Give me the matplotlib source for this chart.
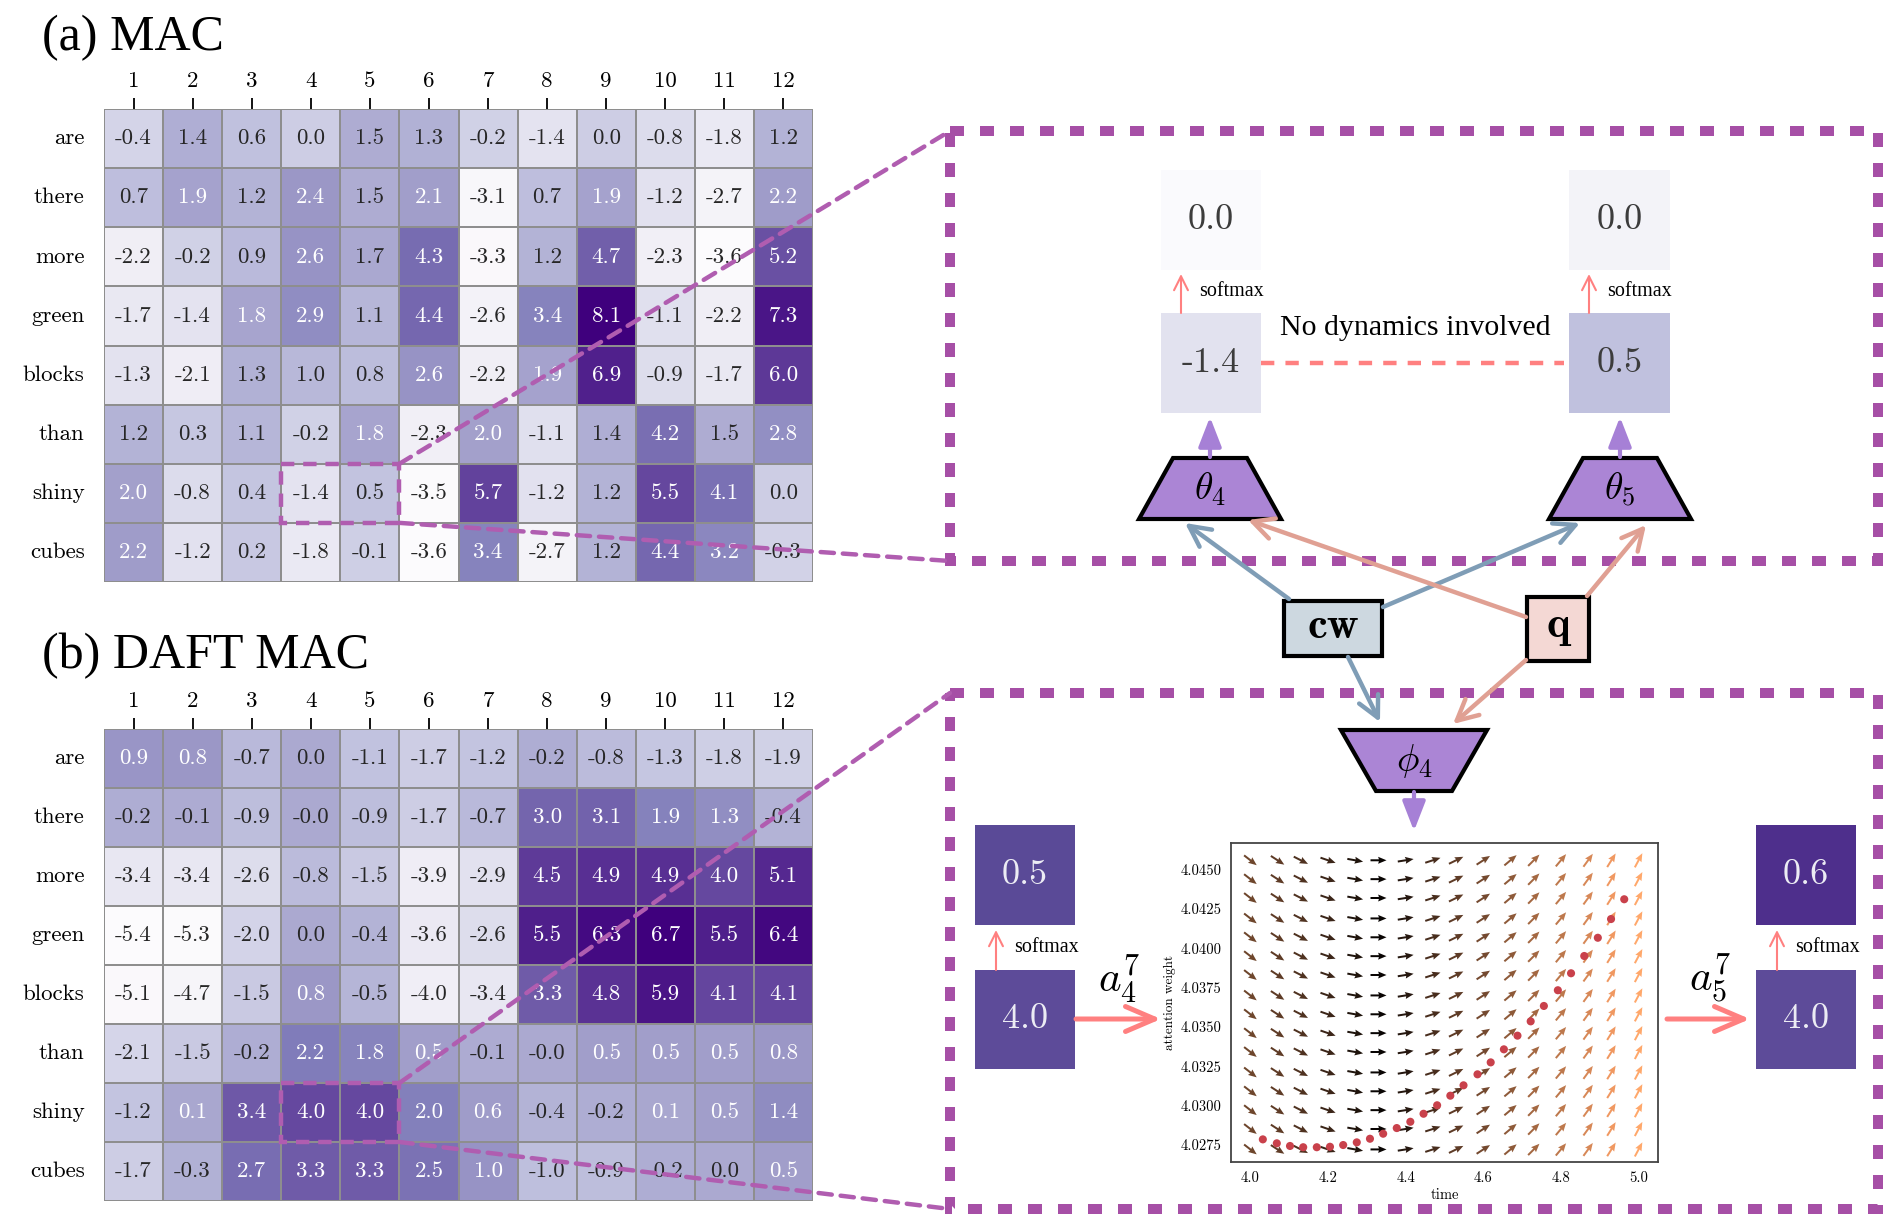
import matplotlib
matplotlib.use('Agg')
import matplotlib.pyplot as plt
import numpy as np
import seaborn as sns
from matplotlib.patches import Rectangle, Polygon, ConnectionPatch

plt.rcParams['font.family'] = ['cmr10', 'DejaVu Serif']
plt.rcParams['mathtext.fontset'] = 'cm'
plt.rcParams['axes.unicode_minus'] = False
plt.rcParams['axes.formatter.use_mathtext'] = True

# ---- heatmap data ----
words = ['are', 'there', 'more', 'green', 'blocks', 'than', 'shiny', 'cubes']
steps = [1, 2, 3, 4, 5, 6, 7, 8, 9, 10, 11, 12]

mac_attn = [
    [-0.4, 1.4, 0.6, 0.0, 1.5, 1.3, -0.2, -1.4, 0.0, -0.8, -1.8, 1.2],
    [0.7, 1.9, 1.2, 2.4, 1.5, 2.1, -3.1, 0.7, 1.9, -1.2, -2.7, 2.2],
    [-2.2, -0.2, 0.9, 2.6, 1.7, 4.3, -3.3, 1.2, 4.7, -2.3, -3.6, 5.2],
    [-1.7, -1.4, 1.8, 2.9, 1.1, 4.4, -2.6, 3.4, 8.1, -1.1, -2.2, 7.3],
    [-1.3, -2.1, 1.3, 1.0, 0.8, 2.6, -2.2, 1.9, 6.9, -0.9, -1.7, 6.0],
    [1.2, 0.3, 1.1, -0.2, 1.8, -2.3, 2.0, -1.1, 1.4, 4.2, 1.5, 2.8],
    [2.0, -0.8, 0.4, -1.4, 0.5, -3.5, 5.7, -1.2, 1.2, 5.5, 4.1, 0.0],
    [2.2, -1.2, 0.2, -1.8, -0.1, -3.6, 3.4, -2.7, 1.2, 4.4, 3.2, -0.3],
]

daft_attn = [
    [0.9, 0.8, -0.7, 0.0, -1.1, -1.7, -1.2, -0.2, -0.8, -1.3, -1.8, -1.9],
    [-0.2, -0.1, -0.9, -0.0, -0.9, -1.7, -0.7, 3.0, 3.1, 1.9, 1.3, -0.4],
    [-3.4, -3.4, -2.6, -0.8, -1.5, -3.9, -2.9, 4.5, 4.9, 4.9, 4.0, 5.1],
    [-5.4, -5.3, -2.0, 0.0, -0.4, -3.6, -2.6, 5.5, 6.3, 6.7, 5.5, 6.4],
    [-5.1, -4.7, -1.5, 0.8, -0.5, -4.0, -3.4, 3.3, 4.8, 5.9, 4.1, 4.1],
    [-2.1, -1.5, -0.2, 2.2, 1.8, 0.5, -0.1, -0.0, 0.5, 0.5, 0.5, 0.8],
    [-1.2, 0.1, 3.4, 4.0, 4.0, 2.0, 0.6, -0.4, -0.2, 0.1, 0.5, 1.4],
    [-1.7, -0.3, 2.7, 3.3, 3.3, 2.5, 1.0, -1.0, -0.9, -0.2, 0.0, 0.5],
]

# zoomed cells (word "shiny", steps 4 and 5)
mac_logits = [-1.4, 0.5]
mac_softmax = [0.0, 0.0]
daft_logits = [4.0, 4.0]
daft_softmax = [0.5, 0.6]

# ---- vector field of the attention dynamics ----
field_t = [4.00, 4.07, 4.13, 4.20, 4.27, 4.33, 4.40, 4.47,
           4.53, 4.60, 4.67, 4.73, 4.80, 4.87, 4.93, 5.00]
field_w = [4.0272, 4.0285, 4.0297, 4.0309, 4.0321, 4.0334, 4.0346, 4.0358,
           4.0370, 4.0383, 4.0395, 4.0407, 4.0419, 4.0432, 4.0444, 4.0456]
field_angle = [-38, -33, -27, -19, -10, 0, 9, 18, 26, 33, 40, 45, 50, 54, 58, 62]
field_speed = [0.35, 0.30, 0.25, 0.19, 0.10, 0.03, 0.12, 0.23,
               0.30, 0.37, 0.45, 0.52, 0.60, 0.68, 0.76, 0.84]

traj_t = [4.032, 4.068, 4.102, 4.136, 4.171, 4.205, 4.239, 4.274, 4.308, 4.342,
          4.377, 4.412, 4.446, 4.481, 4.515, 4.549, 4.585, 4.619, 4.653, 4.688,
          4.722, 4.756, 4.792, 4.826, 4.860, 4.895, 4.929, 4.963]
traj_w = [4.02784, 4.02759, 4.02742, 4.02734, 4.02734, 4.02737, 4.02748, 4.02765,
          4.02788, 4.02820, 4.02856, 4.02896, 4.02947, 4.03001, 4.03062, 4.03128,
          4.03198, 4.03274, 4.03357, 4.03444, 4.03535, 4.03633, 4.03733, 4.03841,
          4.03951, 4.04067, 4.04186, 4.04312]

# ---- colours ----
box_col = '#a64fa6'
link_col = '#b05db0'
red = '#ff8080'
purple = '#a680d6'
trap_col = '#ab85d5'
cw_line = '#7f9db6'
q_line = '#e0a093'

W, H = 1896, 1230
fig = plt.figure(figsize=(W / 100, H / 100), dpi=100)


def px_axes(x0, y0, x1, y1, **kw):
    return fig.add_axes([x0 / W, 1 - y1 / H, (x1 - x0) / W, (y1 - y0) / H], **kw)


def draw_heat(ax, vals):
    sns.heatmap(np.array(vals), ax=ax, cmap='Purples', annot=True, fmt='.1f',
                cbar=False, linewidths=1.1, linecolor='#8e8e8e',
                annot_kws={'fontsize': 16.5, 'fontfamily': 'cmr10'},
                xticklabels=steps, yticklabels=words)
    ax.xaxis.tick_top()
    ax.tick_params(axis='x', top=True, bottom=False, length=8, width=1.3,
                   pad=5, labelsize=16.5)
    ax.tick_params(axis='y', length=0, pad=14, labelsize=16.5, labelrotation=0)
    ax.add_patch(Rectangle((3, 6), 2, 1, fill=False, ec=link_col, lw=3.2,
                           ls=(0, (3, 2)), clip_on=False, zorder=5))


ax_a = px_axes(104, 109, 813, 582)
draw_heat(ax_a, mac_attn)
ax_b = px_axes(104, 729, 813, 1201)
draw_heat(ax_b, daft_attn)

# ---- quiver panel ----
axq = px_axes(1231, 843, 1658, 1162)
T, Wg = np.meshgrid(field_t, field_w)
ang = np.radians(np.array(field_angle, dtype=float))
U = np.tile(np.cos(ang), (len(field_w), 1))
V = np.tile(np.sin(ang), (len(field_w), 1))
C = np.tile(np.array(field_speed), (len(field_w), 1))
axq.quiver(T, Wg, U, V, C, cmap='copper', norm=plt.Normalize(0, 1),
           angles='uv', pivot='mid', units='dots', scale_units='dots',
           scale=1 / 16, width=2.0, headwidth=3.5, headlength=4.2,
           headaxislength=3.8)
axq.scatter(traj_t, traj_w, s=34, color='#c9414b', edgecolors='none', zorder=3)
axq.set_xlim(3.95, 5.05)
axq.set_ylim(4.0264, 4.0467)
axq.set_xticks([4.0, 4.2, 4.4, 4.6, 4.8, 5.0])
axq.set_xticklabels(['4.0', '4.2', '4.4', '4.6', '4.8', '5.0'])
yt = [4.0275, 4.0300, 4.0325, 4.0350, 4.0375, 4.0400, 4.0425, 4.0450]
axq.set_yticks(yt)
axq.set_yticklabels(['%.4f' % v for v in yt])
axq.tick_params(length=0, labelsize=10.5, pad=7)
axq.set_xlabel('time', fontsize=10.5, labelpad=2)
axq.set_ylabel('attention weight', fontsize=9.5, labelpad=3)
for s in axq.spines.values():
    s.set_color('#444444')
    s.set_linewidth(1.3)

# ---- overlay in pixel coordinates ----
ov = fig.add_axes([0, 0, 1, 1], zorder=10)
ov.set_xlim(0, W)
ov.set_ylim(H, 0)
ov.axis('off')
ov.patch.set_alpha(0)

ov.text(42, 50, '(a) MAC', fontsize=36, family='Liberation Serif', va='baseline')
ov.text(42, 668, '(b) DAFT MAC', fontsize=36, family='Liberation Serif', va='baseline')

# big dashed frames
ov.add_patch(Rectangle((950, 131), 928, 430, fill=False, ec=box_col, lw=7.2,
                       ls=(0, (1.4, 1.6))))
ov.add_patch(Rectangle((950, 693), 928, 516, fill=False, ec=box_col, lw=7.2,
                       ls=(0, (1.4, 1.6))))

# links from heatmap cells to frames
for ax, top, bot in [(ax_a, 131, 561), (ax_b, 693, 1209)]:
    for xy, yb in [((5, 6), top), ((5, 7), bot)]:
        con = ConnectionPatch(xyA=xy, coordsA=ax.transData, xyB=(950, yb),
                              coordsB=ov.transData, color=link_col, lw=3.2,
                              ls=(0, (3, 2)))
        ov.add_artist(con)


def vbox(x0, y0, x1, y1, fc, txt, tc):
    ov.add_patch(Rectangle((x0, y0), x1 - x0, y1 - y0, fc=fc, ec='none'))
    ov.text((x0 + x1) / 2, (y0 + y1) / 2, txt, fontsize=26, color=tc,
            ha='center', va='center')


def arrow(p0, p1, color, lw, style, ms=20):
    ov.annotate('', xy=p1, xytext=p0,
                arrowprops=dict(arrowstyle=style, color=color, lw=lw,
                                shrinkA=0, shrinkB=0, mutation_scale=ms))


def trap(cx, ytop, ybot, htop, hbot, label):
    ov.add_patch(Polygon([(cx - htop, ytop), (cx + htop, ytop),
                          (cx + hbot, ybot), (cx - hbot, ybot)],
                         closed=True, fc=trap_col, ec='black', lw=3,
                         joinstyle='miter'))
    ov.text(cx, (ytop + ybot) / 2 + 1, label, fontsize=27, ha='center', va='center')


# upper frame: MAC, no dynamics
up_x = [(1161, 1261), (1569, 1670)]
soft_up_cols = ['#fafafd', '#f3f3f8']
logit_up_cols = ['#e2e2ef', '#c0c1de']
for i, (x0, x1) in enumerate(up_x):
    vbox(x0, 170, x1, 270, soft_up_cols[i], '%.1f' % mac_softmax[i], '#3c3c3c')
    vbox(x0, 313, x1, 413, logit_up_cols[i], '%.1f' % mac_logits[i], '#3c3c3c')
    arrow((x0 + 20, 313), (x0 + 20, 274), red, 1.5, '->, head_length=0.5, head_width=0.25')
    ov.text(x0 + 38, 292, 'softmax', fontsize=14.5, family='Liberation Serif',
            ha='left', va='center')
ov.text(1415, 328, 'No dynamics involved', fontsize=21.5, family='Liberation Serif',
        ha='center', va='center')
ov.plot([1261, 1564], [363, 363], color=red, lw=3.2, ls=(0, (3, 2.5)))

trap(1210, 458, 519, 37, 71, r'$\theta_4$')
trap(1620, 458, 519, 37, 71, r'$\theta_5$')
arrow((1210, 457), (1210, 417), purple, 3, '-|>, head_length=0.9, head_width=0.35')
arrow((1620, 457), (1620, 417), purple, 3, '-|>, head_length=0.9, head_width=0.35')

# cw and q
ov.add_patch(Rectangle((1284, 601), 98, 55, fc='#cdd8e0', ec='black', lw=3))
ov.text(1333, 628, 'cw', fontsize=32, family='cmb10', ha='center', va='center')
ov.add_patch(Rectangle((1527, 597), 62, 64, fc='#f4d8d4', ec='black', lw=3))
ov.text(1558, 626, 'q', fontsize=32, family='cmb10', ha='center', va='center')

hs = '->, head_length=0.75, head_width=0.38'
arrow((1289, 599), (1185, 523), cw_line, 3.2, hs)
arrow((1383, 607), (1580, 523), cw_line, 3.2, hs)
arrow((1526, 617), (1248, 520), q_line, 3.2, hs)
arrow((1587, 596), (1646, 525), q_line, 3.2, hs)
arrow((1348, 657), (1380, 722), cw_line, 3.2, hs)
arrow((1526, 660), (1453, 724), q_line, 3.2, hs)

trap(1414, 730, 791, 73, 38, r'$\phi_4$')
arrow((1414, 792), (1414, 831), purple, 3, '-|>, head_length=0.9, head_width=0.35')

# lower frame: DAFT MAC, with dynamics
low_x = [(975, 1075), (1756, 1856)]
soft_low_cols = ['#5a4a97', '#4e2f8c']
logit_low_cols = ['#5d4b99', '#5d4b99']
for i, (x0, x1) in enumerate(low_x):
    vbox(x0, 825, x1, 925, soft_low_cols[i], '%.1f' % daft_softmax[i], '#ececf4')
    vbox(x0, 970, x1, 1069, logit_low_cols[i], '%.1f' % daft_logits[i], '#ececf4')
    arrow((x0 + 21, 970), (x0 + 21, 930), red, 1.5, '->, head_length=0.5, head_width=0.25')
    ov.text(x0 + 39, 948, 'softmax', fontsize=14.5, family='Liberation Serif',
            ha='left', va='center')

ov.text(1119, 979, r'$a_4^7$', fontsize=31, ha='center', va='center')
ov.text(1710, 979, r'$a_5^7$', fontsize=31, ha='center', va='center')
arrow((1076, 1019), (1161, 1019), red, 3.6, '->, head_length=1.05, head_width=0.45')
arrow((1667, 1019), (1750, 1019), red, 3.6, '->, head_length=1.05, head_width=0.45')

fig.savefig('out.png', dpi=100)
